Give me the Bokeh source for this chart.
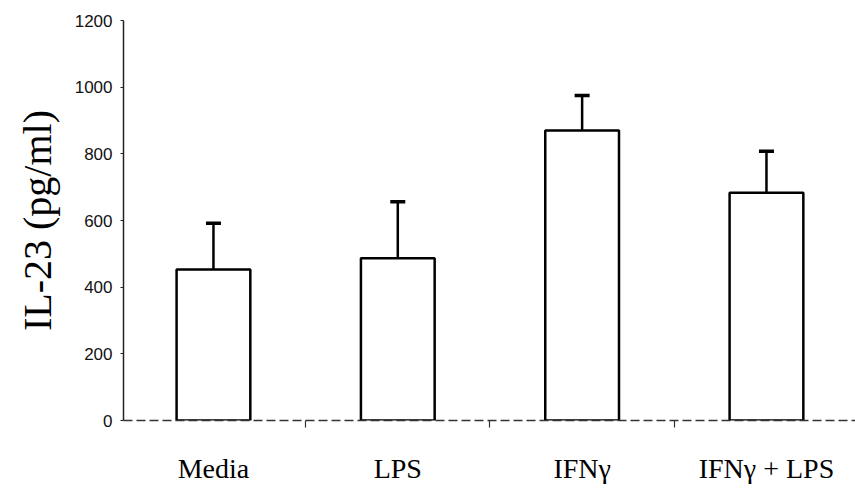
from bokeh.plotting import figure
from bokeh.models import (ColumnDataSource, Range1d, FixedTicker, Whisker, TeeHead, Title,
                          LinearAxis)
from bokeh.embed import file_html
from bokeh.resources import INLINE

# ---- data ----
categories = ["Media", "LPS", "IFNγ", "IFNγ + LPS"]
means = [453, 487, 870, 683]
errors = [139, 169, 105, 125]
y_ticks = [0, 200, 400, 600, 800, 1000, 1200]

xs = list(range(len(categories)))
src = ColumnDataSource(dict(
    x=xs,
    top=means,
    upper=[m + e for m, e in zip(means, errors)],
))

p = figure(width=855, height=492, output_backend="svg", toolbar_location=None,
           x_range=Range1d(-0.488, 3.483), y_range=Range1d(0, 1200),
           min_border_left=123, min_border_right=0, min_border_top=20, min_border_bottom=72,
           x_axis_location=None, y_axis_location=None)
p.outline_line_color = None
p.xgrid.visible = False
p.ygrid.visible = False
p.background_fill_color = "white"
p.border_fill_color = "white"

# bars
p.vbar(x="x", top="top", width=0.40, source=src, fill_color="white",
       line_color="black", line_width=2.5)

# error bars (upper only)
w = Whisker(source=src, base="x", lower="top", upper="upper", dimension="height",
            line_color="black", line_width=2.5,
            upper_head=TeeHead(size=15, line_width=3.5, line_color="black"),
            lower_head=None)
p.add_layout(w)

# y axis
yax = LinearAxis(ticker=FixedTicker(ticks=y_ticks, minor_ticks=[]))
yax.axis_line_color = "#222222"
yax.axis_line_width = 1.5
yax.major_tick_out = 3
yax.major_tick_in = 0
yax.minor_tick_out = 0
yax.major_tick_line_color = "#222222"
yax.major_label_text_font = "'Liberation Sans Narrow', 'Arial Narrow', sans-serif"
yax.major_label_text_font_size = "17px"
yax.major_label_text_color = "#111111"
yax.major_label_standoff = 8
p.add_layout(yax, "left")

# y-axis title
ttl = Title(text="IL-23 (pg/ml)", align="center", text_font="Liberation Serif",
            text_font_size="40px", text_font_style="normal", text_color="black",
            standoff=24, offset=-12)
p.add_layout(ttl, "left")

# x axis: labels at categories, small ticks between categories
xax = LinearAxis(ticker=FixedTicker(ticks=xs, minor_ticks=[i + 0.5 for i in xs[:-1]]))
xax.major_label_overrides = {i: c for i, c in zip(xs, categories)}
xax.axis_line_color = "#333333"
xax.axis_line_width = 1.5
xax.axis_line_dash = "9 4"
xax.major_tick_out = 0
xax.major_tick_in = 0
xax.minor_tick_out = 7
xax.minor_tick_in = 0
xax.minor_tick_line_color = "#333333"
xax.minor_tick_line_width = 1.2
xax.major_label_text_font = "Liberation Serif"
xax.major_label_text_font_size = "28px"
xax.major_label_text_color = "black"
xax.major_label_standoff = 25
p.add_layout(xax, "below")

open("out.html", "w").write(file_html(p, INLINE))
